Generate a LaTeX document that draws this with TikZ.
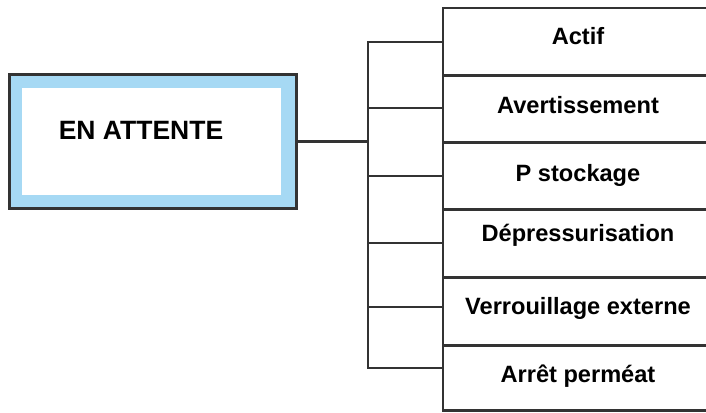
\documentclass[tikz,border=0pt]{standalone}
\usepackage{fontspec}
\setmainfont{Liberation Sans}
\definecolor{linec}{HTML}{333333}
\definecolor{lightblue}{HTML}{A6D9F4}
\begin{document}
\begin{tikzpicture}[x=1pt,y=-1pt]
\tikzset{
  conn/.style={draw=linec, line width=2.6pt, line join=miter},
  rowbox/.style={anchor=north west, inner sep=0pt, minimum width=275pt},
  lbl/.style={font=\fontsize{23.6}{27}\selectfont\bfseries, inner sep=0pt},
}
\useasboundingbox (0,0) rectangle (706,412);
% main box
\node[draw=linec, line width=2.6pt, fill=lightblue, anchor=north west, inner sep=0pt,
      minimum width=287pt, minimum height=134pt] (main) at (8,73) {};
\fill[white] (22,88) rectangle (281,195);
\node[font=\fontsize{26.5}{30}\selectfont\bfseries, inner sep=0pt] (maintext) at (141,130) {EN ATTENTE};
% rows
\node[rowbox, minimum height=67pt] (r1) at (443,8) {};
\node[rowbox, minimum height=67pt] (r2) at (443,75) {};
\node[rowbox, minimum height=67pt] (r3) at (443,142) {};
\node[rowbox, minimum height=68pt] (r4) at (443,209) {};
\node[rowbox, minimum height=68pt] (r5) at (443,277) {};
\node[rowbox, minimum height=65pt] (r6) at (443,345) {};
\foreach \r in {r1,r2,r3,r4,r5,r6}{
  \draw[conn] (\r.north east) -- (\r.north west) -- (\r.south west) -- (\r.south east);
}
% labels
\node[lbl] (l1) at (578,36) {Actif};
\node[lbl] (l2) at (578,105) {Avertissement};
\node[lbl] (l3) at (578,175) {P stockage};
\node[lbl] (l4) at (578,235) {Dépressurisation};
\node[lbl] (l5) at (578,308) {Verrouillage externe};
\node[lbl] (l6) at (578,376) {Arrêt perméat};
% bus
\coordinate (b1) at (368,42);
\coordinate (b2) at (368,108);
\coordinate (b3) at (368,176);
\coordinate (b4) at (368,243);
\coordinate (b5) at (368,307);
\coordinate (b6) at (368,368);
\draw[conn] (b1 -| r1.west) -- (b1) -- (b6) -- (b6 -| r6.west);
\draw[conn] (b2) -- (b2 -| r2.west);
\draw[conn] (b3) -- (b3 -| r3.west);
\draw[conn] (b4) -- (b4 -| r4.west);
\draw[conn] (b5) -- (b5 -| r5.west);
\draw[conn] (main.east) -- (main.east -| b1);
\end{tikzpicture}
\end{document}
